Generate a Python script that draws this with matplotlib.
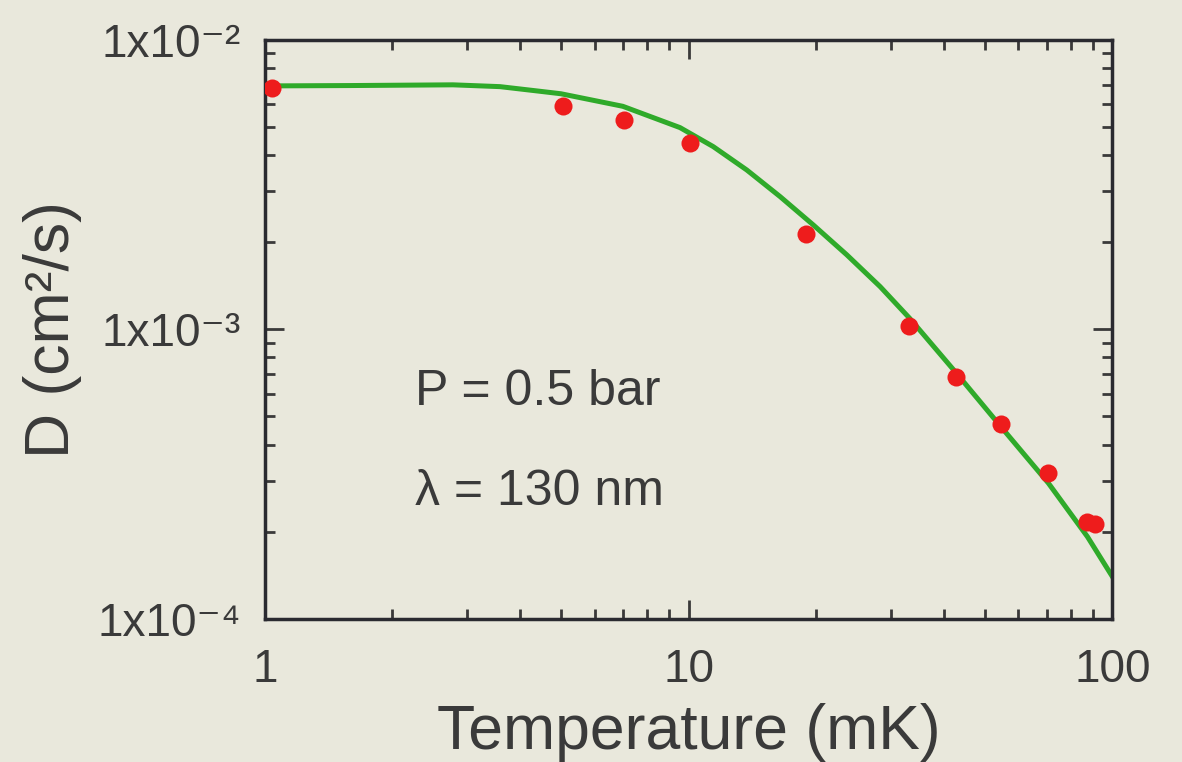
import matplotlib.pyplot as plt
from matplotlib.ticker import FixedLocator, FixedFormatter, LogLocator, NullFormatter

# measured diffusion points (T in mK, D in cm^2/s)
temp_data = [1.04, 5.05, 7.04, 10.08, 18.9, 33.2, 42.8, 54.6, 70.7, 87.4, 91.2]
d_data = [0.00683, 0.00591, 0.00529, 0.00441, 0.00214, 0.00103,
          0.000687, 0.000470, 0.000320, 0.000216, 0.000212]

# fit curve
temp_fit = [1.0, 1.59, 2.78, 3.59, 4.46, 5.0, 7.0, 9.55, 11.44, 13.72, 16.45,
            19.71, 23.63, 28.33, 33.3, 42.8, 54.6, 70.7, 87.4, 100.0]
d_fit = [0.00694, 0.00696, 0.00700, 0.00690, 0.00665, 0.00652, 0.00590,
         0.00498, 0.004281, 0.003556, 0.002876, 0.002294, 0.001810, 0.001405,
         0.00109, 0.000708, 0.000461, 0.000294, 0.000192, 0.000140]

x_ticks = [1, 10, 100]
x_labels = ['1', '10', '100']
y_ticks = [1e-4, 1e-3, 1e-2]
y_labels = ['1x10⁻⁴', '1x10⁻³', '1x10⁻²']

plt.rcParams['font.family'] = ['Liberation Sans', 'DejaVu Sans']
bg = '#e9e8dc'
ink = '#3a3a3a'

fig = plt.figure(figsize=(11.82, 7.62), dpi=100, facecolor=bg)
ax = fig.add_axes([0.224, 0.188, 0.717, 0.7595], facecolor=bg)

ax.plot(temp_fit, d_fit, color='#2faa2a', lw=3.6, zorder=2)
ax.plot(temp_data, d_data, 'o', color='#ee1c1c', ms=13, mec='none', zorder=3)

ax.set_xscale('log')
ax.set_yscale('log')
ax.set_xlim(1, 100)
ax.set_ylim(1e-4, 1e-2)

ax.xaxis.set_major_locator(FixedLocator(x_ticks))
ax.xaxis.set_major_formatter(FixedFormatter(x_labels))
ax.yaxis.set_major_locator(FixedLocator(y_ticks))
ax.yaxis.set_major_formatter(FixedFormatter(y_labels))
for a in (ax.xaxis, ax.yaxis):
    a.set_minor_locator(LogLocator(base=10, subs=range(2, 10)))
    a.set_minor_formatter(NullFormatter())

ax.tick_params(which='both', direction='in', top=True, right=True, colors=ink,
               labelsize=33, width=2)
ax.tick_params(which='major', length=14)
ax.tick_params(which='minor', length=7)
ax.tick_params(axis='x', pad=21)
ax.tick_params(axis='y', pad=17)
for s in ax.spines.values():
    s.set_linewidth(2.5)
    s.set_color('#2a2a30')

ax.set_xlabel('Temperature (mK)', fontsize=45, color=ink, labelpad=8)
ax.set_ylabel('D (cm²/s)', fontsize=45, color=ink, labelpad=11)

ax.text(0.177, 0.37, 'P = 0.5 bar', transform=ax.transAxes, fontsize=36,
        color=ink, va='baseline')
ax.text(0.177, 0.197, 'λ = 130 nm', transform=ax.transAxes, fontsize=36,
        color=ink, va='baseline')

fig.savefig('out.png', dpi=100, facecolor=bg)
